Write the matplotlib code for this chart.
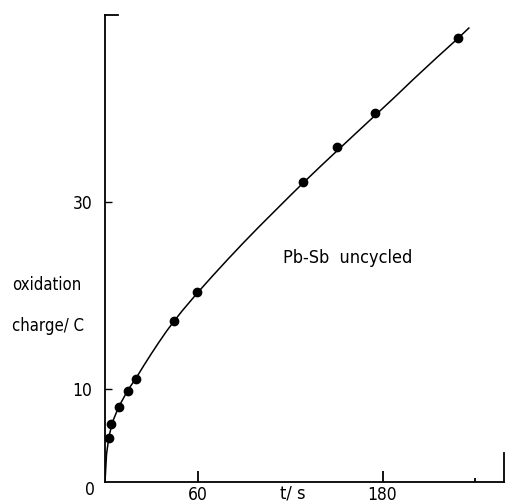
import matplotlib.pyplot as plt

# measured points (t in s, charge in C)
t_pts = [2.6, 3.9, 9.1, 14.7, 20.1, 44.7, 59.7, 128.2, 150.3, 175.1, 228.7]
q_pts = [4.7, 6.2, 8.0, 9.8, 11.1, 17.3, 20.4, 32.2, 35.9, 39.6, 47.6]

# smooth curve
t_curve = [0, 1, 2.6, 5, 9, 15, 20, 25, 30, 35, 40, 45, 50, 60, 70, 80, 90, 100,
           110, 120, 128, 140, 150, 162, 175, 188, 200, 215, 229, 236]
q_curve = [0, 3.0, 4.9, 6.5, 8.1, 9.9, 11.1, 12.45, 13.75, 15.0, 16.2, 17.3, 18.35, 20.3,
           22.15, 23.95, 25.7, 27.4, 29.05, 30.7, 32.0, 33.9, 35.45, 37.3, 39.3, 41.3,
           43.2, 45.5, 47.6, 48.7]

x_ticks = [60, 180]
x_ticklabels = ["60", "180"]
y_ticks = [10, 30]
y_ticklabels = ["10", "30"]

W, H = 506, 503
fnt = dict(family="DejaVu Sans", fontstretch="condensed")

fig = plt.figure(figsize=(W / 100, H / 100), dpi=100)
ax = fig.add_axes([105 / W, (H - 482) / H, (504 - 105) / W, (482 - 15) / H])

ax.plot(t_curve, q_curve, color="black", lw=1.1)
ax.plot(t_pts, q_pts, "o", color="black", ms=6)

ax.set_xlim(0, 258.8)
ax.set_ylim(0, 50.1)

ax.spines["top"].set_bounds(0, 8.4)
ax.spines["right"].set_bounds(0, 3.1)
for s in ax.spines.values():
    s.set_linewidth(1.3)

ax.set_xticks(x_ticks)
ax.set_xticklabels(x_ticklabels, fontsize=12.5, **fnt)
ax.set_xticks([240], minor=True)
ax.set_yticks(y_ticks)
ax.set_yticklabels(y_ticklabels, fontsize=12.5, **fnt)
ax.tick_params(axis="x", which="major", direction="in", length=8, width=1.3, pad=3)
ax.tick_params(axis="x", which="minor", direction="in", length=3, width=1.3)
ax.tick_params(axis="y", direction="in", length=5, width=1.0, pad=9)

ax.text(115.4, 24.0, "Pb-Sb  uncycled", fontsize=13, ha="left", va="center", **fnt)

fig.text(90 / W, 1 - 490 / H, "0", fontsize=12.5, ha="center", va="center", **fnt)
fig.text(293 / W, 1 - 494 / H, "t/ s", fontsize=13, ha="center", va="center", **fnt)
fig.text(12 / W, 1 - 285 / H, "oxidation", fontsize=12, ha="left", va="center", **fnt)
fig.text(12 / W, 1 - 326 / H, "charge/ C", fontsize=12, ha="left", va="center", **fnt)

fig.savefig("out.png", dpi=100)
